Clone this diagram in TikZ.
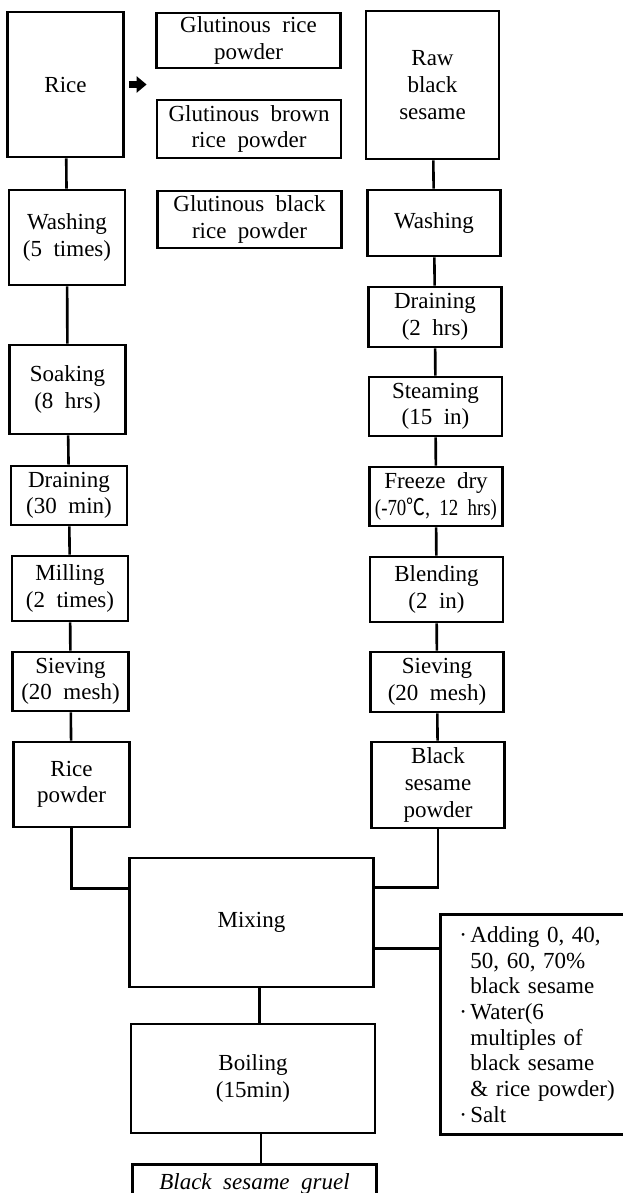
\documentclass[tikz,border=0pt]{standalone}
\usepackage{fontspec}
\setmainfont{Liberation Serif}[WordSpace=2]
\newfontfamily\cjkfont{Noto Sans CJK KR}
\usetikzlibrary{arrows.meta}

\newcommand{\degC}{{\cjkfont ℃}}
\newcommand{\notedot}{\makebox[5.5pt][l]{·}}
\newcommand{\noteskip}{\hspace*{5.5pt}}

\begin{document}
\begin{tikzpicture}[x=0.5pt,y=-0.5pt,
  box/.style={draw,line width=1.4pt,align=center,inner sep=0pt,font=\fontsize{11.5}{13.3}\selectfont},
  lbox/.style={box,minimum width=58pt},
  rbox/.style={box,minimum width=66.5pt},
  gbox/.style={box,minimum width=92pt},
  wbox/.style={box,minimum width=122pt},
  link/.style={line width=1.3pt},
  blockarrow/.style={line width=3.5pt,-{Triangle[length=5pt,width=8pt]}}
]
\useasboundingbox (0,0) rectangle (622,1193);
% rice line
\node[lbox,minimum height=72.5pt] (rice) at (65.5,84.5) {Rice};
\node[lbox,minimum height=47.5pt] (wash1) at (67,237.5) {Washing\\(5 times)};
\node[lbox,minimum height=44.5pt] (soak) at (67.5,389.5) {Soaking\\(8 hrs)};
\node[lbox,minimum height=29.5pt] (drain1) at (69,495.5) {Draining\\(30 min)};
\node[lbox,minimum height=32.5pt] (mill) at (70,588.5) {Milling\\(2 times)};
\node[lbox,minimum height=29.5pt] (sieve1) at (70.5,681.5) {Sieving\\(20 mesh)};
\node[lbox,minimum height=42.5pt] (ricepow) at (71.5,784.5) {Rice\\powder};
% rice kinds
\node[gbox,minimum height=27.5pt] (glut1) at (248.5,40.5) {Glutinous rice\\powder};
\node[gbox,minimum height=29pt] (glut2) at (249,129) {Glutinous brown\\rice powder};
\node[gbox,minimum height=28.5pt] (glut3) at (249.5,219.5) {Glutinous black\\rice powder};
% sesame line
\node[rbox,minimum height=74pt] (raw) at (432.5,85) {Raw\\black\\sesame};
\node[rbox,minimum height=33pt] (wash2) at (434,223) {Washing};
\node[rbox,minimum height=30pt] (drain2) at (435,317) {Draining\\(2 hrs)};
\node[rbox,minimum height=29.5pt] (steam) at (435.5,406.5) {Steaming\\(15 in)};
\node[rbox,minimum height=29.5pt] (freeze) at (436,496.5) {Freeze dry\\\scalebox{0.82}[1]{(-70\degC, 12 hrs)}};
\node[rbox,minimum height=32.5pt] (blend) at (436.5,589.5) {Blending\\(2 in)};
\node[rbox,minimum height=30pt] (sieve2) at (437,682) {Sieving\\(20 mesh)};
\node[rbox,minimum height=43pt] (sespow) at (438,785) {Black\\sesame\\powder};
% gruel
\node[wbox,minimum height=64.5pt] (mix) at (251.5,922.5) {Mixing};
\node[wbox,minimum height=54.5pt] (boil) at (253,1078.5) {Boiling\\(15min)};
\node[wbox,minimum height=20pt,anchor=north] (gruel) at (254.5,1163) {\itshape Black sesame gruel};
\node[box,anchor=north west,minimum height=110pt,text width=95pt,inner xsep=9.5pt,align=left,font=\fontsize{11.5}{12.85}\selectfont] (note) at (439,913)
  {\notedot Adding 0, 40,\\\noteskip 50, 60, 70\%\\\noteskip black sesame\\\notedot Water(6\\\noteskip multiples of\\\noteskip black sesame\\\noteskip \& rice powder)\\\notedot Salt};
\draw[blockarrow] ([xshift=2pt]rice.east) -- ([xshift=-4.5pt]rice.east -| glut2.west);
\draw[link] (rice) -- (wash1);
\draw[link] (wash1) -- (soak);
\draw[link] (soak) -- (drain1);
\draw[link] (drain1) -- (mill);
\draw[link] (mill) -- (sieve1);
\draw[link] (sieve1) -- (ricepow);
\draw[link] (raw) -- (wash2);
\draw[link] (wash2) -- (drain2);
\draw[link] (drain2) -- (steam);
\draw[link] (steam) -- (freeze);
\draw[link] (freeze) -- (blend);
\draw[link] (blend) -- (sieve2);
\draw[link] (sieve2) -- (sespow);
\draw[link] (ricepow.south) |- ([yshift=-16pt]mix.north west);
\draw[link] (sespow.south) |- ([yshift=-15.5pt]mix.north east);
\draw[link] ([yshift=-13pt]mix.east) -- ([yshift=-13pt]mix.east -| note.west);
\draw[link] ([xshift=4pt]mix.south) -- ([xshift=4pt]mix.south |- boil.north);
\draw[link] ([xshift=4pt]boil.south) -- ([xshift=4pt]boil.south |- gruel.north);
\end{tikzpicture}
\end{document}
